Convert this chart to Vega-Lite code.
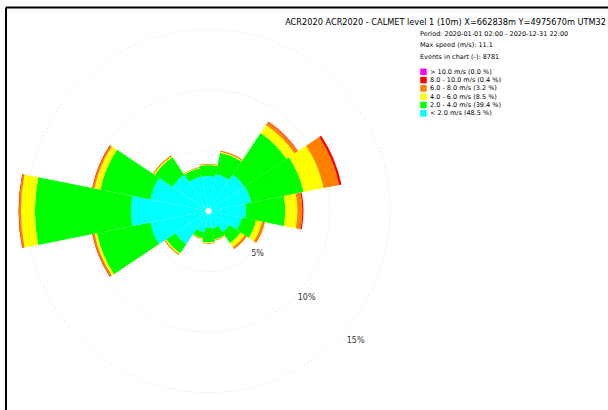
{
  "$schema": "https://vega.github.io/schema/vega-lite/v6.json",
  "autosize": {"type": "none"},
  "padding": {"left": 6, "top": 12, "right": 197, "bottom": 0},
  "width": 405,
  "height": 398,
  "background": "white",
  "config": {"font": "DejaVu Sans", "view": {"stroke": null}},
  "title": {
    "text": "ACR2020 ACR2020 - CALMET level 1 (10m) X=662838m Y=4975670m UTM32",
    "anchor": "end",
    "frame": "group",
    "dx": 195,
    "dy": 27,
    "offset": 0,
    "baseline": "alphabetic",
    "fontSize": 8.2,
    "fontWeight": "normal",
    "color": "black",
    "font": "DejaVu Sans"
  },
  "datasets": {
    "sectors": [
      {"dir": "N", "from": -11.25, "to": 11.25},
      {"dir": "NNE", "from": 11.25, "to": 33.75},
      {"dir": "NE", "from": 33.75, "to": 56.25},
      {"dir": "ENE", "from": 56.25, "to": 78.75},
      {"dir": "E", "from": 78.75, "to": 101.25},
      {"dir": "ESE", "from": 101.25, "to": 123.75},
      {"dir": "SE", "from": 123.75, "to": 146.25},
      {"dir": "SSE", "from": 146.25, "to": 168.75},
      {"dir": "S", "from": 168.75, "to": 191.25},
      {"dir": "SSW", "from": 191.25, "to": 213.75},
      {"dir": "SW", "from": 213.75, "to": 236.25},
      {"dir": "WSW", "from": 236.25, "to": 258.75},
      {"dir": "W", "from": 258.75, "to": 281.25},
      {"dir": "WNW", "from": 281.25, "to": 303.75},
      {"dir": "NW", "from": 303.75, "to": 326.25},
      {"dir": "NNW", "from": 326.25, "to": 348.75}
    ],
    "classes": [
      {"cls": 1, "label": "< 2.0 m/s (48.5 %)"},
      {"cls": 2, "label": "2.0 - 4.0 m/s (39.4 %)"},
      {"cls": 3, "label": "4.0 - 6.0 m/s (8.5 %)"},
      {"cls": 4, "label": "6.0 - 8.0 m/s (3.2 %)"},
      {"cls": 5, "label": "8.0 - 10.0 m/s (0.4 %)"},
      {"cls": 6, "label": "> 10.0 m/s (0.0 %)"}
    ],
    "rose": [
      {"dir": "N", "cls": 1, "pct": 2.9}, {"dir": "N", "cls": 2, "pct": 0.9}, {"dir": "N", "cls": 3, "pct": 0.05}, {"dir": "N", "cls": 4, "pct": 0.05},
      {"dir": "NNE", "cls": 1, "pct": 3.1}, {"dir": "NNE", "cls": 2, "pct": 1.8}, {"dir": "NNE", "cls": 3, "pct": 0.1}, {"dir": "NNE", "cls": 4, "pct": 0.1},
      {"dir": "NE", "cls": 1, "pct": 3.6}, {"dir": "NE", "cls": 2, "pct": 4.15}, {"dir": "NE", "cls": 3, "pct": 0.8}, {"dir": "NE", "cls": 4, "pct": 0.3}, {"dir": "NE", "cls": 5, "pct": 0.05},
      {"dir": "ENE", "cls": 1, "pct": 3.6}, {"dir": "ENE", "cls": 2, "pct": 4.4}, {"dir": "ENE", "cls": 3, "pct": 1.7}, {"dir": "ENE", "cls": 4, "pct": 1.3}, {"dir": "ENE", "cls": 5, "pct": 0.2},
      {"dir": "E", "cls": 1, "pct": 3.1}, {"dir": "E", "cls": 2, "pct": 3.25}, {"dir": "E", "cls": 3, "pct": 1.0}, {"dir": "E", "cls": 4, "pct": 0.4}, {"dir": "E", "cls": 5, "pct": 0.1},
      {"dir": "ESE", "cls": 1, "pct": 2.8}, {"dir": "ESE", "cls": 2, "pct": 1.2}, {"dir": "ESE", "cls": 3, "pct": 0.5}, {"dir": "ESE", "cls": 4, "pct": 0.25},
      {"dir": "SE", "cls": 1, "pct": 2.1}, {"dir": "SE", "cls": 2, "pct": 1.1}, {"dir": "SE", "cls": 3, "pct": 0.4}, {"dir": "SE", "cls": 4, "pct": 0.2},
      {"dir": "SSE", "cls": 1, "pct": 1.5}, {"dir": "SSE", "cls": 2, "pct": 0.9}, {"dir": "SSE", "cls": 3, "pct": 0.05}, {"dir": "SSE", "cls": 4, "pct": 0.05},
      {"dir": "S", "cls": 1, "pct": 1.4}, {"dir": "S", "cls": 2, "pct": 1.2}, {"dir": "S", "cls": 3, "pct": 0.05}, {"dir": "S", "cls": 4, "pct": 0.05},
      {"dir": "SSW", "cls": 1, "pct": 1.8}, {"dir": "SSW", "cls": 2, "pct": 0.5}, {"dir": "SSW", "cls": 3, "pct": 0.05}, {"dir": "SSW", "cls": 4, "pct": 0.05},
      {"dir": "SW", "cls": 1, "pct": 3.3}, {"dir": "SW", "cls": 2, "pct": 0.9}, {"dir": "SW", "cls": 3, "pct": 0.1}, {"dir": "SW", "cls": 4, "pct": 0.1},
      {"dir": "WSW", "cls": 1, "pct": 4.9}, {"dir": "WSW", "cls": 2, "pct": 4.5}, {"dir": "WSW", "cls": 3, "pct": 0.2}, {"dir": "WSW", "cls": 4, "pct": 0.15}, {"dir": "WSW", "cls": 5, "pct": 0.05},
      {"dir": "W", "cls": 1, "pct": 6.4}, {"dir": "W", "cls": 2, "pct": 7.95}, {"dir": "W", "cls": 3, "pct": 1.15}, {"dir": "W", "cls": 4, "pct": 0.15}, {"dir": "W", "cls": 5, "pct": 0.05},
      {"dir": "WNW", "cls": 1, "pct": 4.9}, {"dir": "WNW", "cls": 2, "pct": 4.2}, {"dir": "WNW", "cls": 3, "pct": 0.5}, {"dir": "WNW", "cls": 4, "pct": 0.15}, {"dir": "WNW", "cls": 5, "pct": 0.05},
      {"dir": "NW", "cls": 1, "pct": 3.6}, {"dir": "NW", "cls": 2, "pct": 1.75}, {"dir": "NW", "cls": 3, "pct": 0.1}, {"dir": "NW", "cls": 4, "pct": 0.1},
      {"dir": "NNW", "cls": 1, "pct": 2.9}, {"dir": "NNW", "cls": 2, "pct": 0.7}, {"dir": "NNW", "cls": 3, "pct": 0.05}, {"dir": "NNW", "cls": 4, "pct": 0.05}
    ],
    "rings": [
      {"ring": 5, "label": "5%"},
      {"ring": 10, "label": "10%"},
      {"ring": 15, "label": "15%"}
    ]
  },
  "resolve": {"scale": {"radius": "independent"}},
  "layer": [
    {
      "data": {"name": "rings"},
      "mark": {"type": "arc", "theta": 0, "theta2": 6.2832, "filled": false, "stroke": "#dcdcdc", "strokeWidth": 1, "strokeDash": [1, 3]},
      "encoding": {
        "radius": {"field": "ring", "type": "quantitative", "stack": null, "scale": {"type": "linear", "domain": [0, 16], "range": [0, 193.6], "zero": true, "nice": false}}
      }
    },
    {
      "data": {"name": "rose"},
      "transform": [
        {"lookup": "dir", "from": {"data": {"name": "sectors"}, "key": "dir", "fields": ["from", "to"]}},
        {"lookup": "cls", "from": {"data": {"name": "classes"}, "key": "cls", "fields": ["label"]}},
        {"stack": "pct", "groupby": ["dir"], "sort": [{"field": "cls", "order": "ascending"}], "as": ["r0", "r1"]}
      ],
      "mark": {"type": "arc"},
      "encoding": {
        "theta": {"field": "from", "type": "quantitative", "scale": {"type": "linear", "domain": [0, 360], "range": [0, 6.283185307], "zero": false, "nice": false}},
        "theta2": {"field": "to"},
        "radius": {"field": "r1", "type": "quantitative", "scale": {"type": "linear", "domain": [0, 16], "range": [0, 193.6], "zero": true, "nice": false}},
        "radius2": {"field": "r0"},
        "color": {
          "field": "label",
          "type": "nominal",
          "scale": {
            "domain": ["> 10.0 m/s (0.0 %)", "8.0 - 10.0 m/s (0.4 %)", "6.0 - 8.0 m/s (3.2 %)", "4.0 - 6.0 m/s (8.5 %)", "2.0 - 4.0 m/s (39.4 %)", "< 2.0 m/s (48.5 %)"],
            "range": ["#ff00ff", "#ff0000", "#ff8000", "#ffff00", "#00ff00", "#00ffff"]
          },
          "legend": {
            "orient": "none",
            "legendX": 414,
            "legendY": 19,
            "padding": 0,
            "title": ["Period: 2020-01-01 02:00 - 2020-12-31 22:00", "Max speed (m/s): 11.1", "Events in chart (-): 8781"],
            "titleFont": "DejaVu Sans",
            "titleFontSize": 6.5,
            "titleFontWeight": "normal",
            "titleColor": "black",
            "titleLineHeight": 11.4,
            "titlePadding": 8,
            "titleAnchor": "start",
            "titleLimit": 300,
            "labelFont": "DejaVu Sans",
            "labelFontSize": 6.5,
            "labelColor": "black",
            "labelOffset": 3,
            "labelLimit": 300,
            "symbolType": "square",
            "symbolSize": 42,
            "symbolStrokeWidth": 0,
            "symbolOpacity": 1,
            "rowPadding": 1.3
          }
        }
      }
    },
    {
      "data": {"values": [{"part": "centre"}]},
      "mark": {"type": "arc", "theta": 0, "theta2": 6.2832, "color": "white"},
      "encoding": {
        "radius": {"datum": 0.25, "type": "quantitative", "stack": null, "scale": {"type": "linear", "domain": [0, 16], "range": [0, 193.6], "zero": true, "nice": false}}
      }
    },
    {
      "data": {"name": "rings"},
      "mark": {"type": "text", "fontSize": 8, "color": "#333333", "align": "center", "baseline": "middle", "font": "DejaVu Sans"},
      "encoding": {
        "theta": {"datum": 131.5, "type": "quantitative", "scale": {"type": "linear", "domain": [0, 360], "range": [0, 6.283185307], "zero": false, "nice": false}},
        "radius": {"field": "ring", "type": "quantitative", "stack": null, "scale": {"type": "linear", "domain": [0, 16], "range": [0, 209.6], "zero": true, "nice": false}},
        "text": {"field": "label"}
      }
    },
    {
      "data": {"values": [{"edge": "left"}]},
      "mark": {"type": "rule", "color": "black", "strokeWidth": 2},
      "encoding": {
        "x": {"datum": 0, "type": "quantitative", "scale": {"domain": [0, 1], "nice": false, "zero": false}, "axis": null},
        "y": {"datum": 1.0113, "type": "quantitative", "scale": {"domain": [0, 1], "nice": false, "zero": false}, "axis": null},
        "y2": {"datum": -0.02}
      }
    },
    {
      "data": {"values": [{"edge": "top"}]},
      "mark": {"type": "rule", "color": "black", "strokeWidth": 2},
      "encoding": {
        "x": {"datum": 0, "type": "quantitative"},
        "x2": {"datum": 1.5},
        "y": {"datum": 1.0113, "type": "quantitative"}
      }
    }
  ]
}
